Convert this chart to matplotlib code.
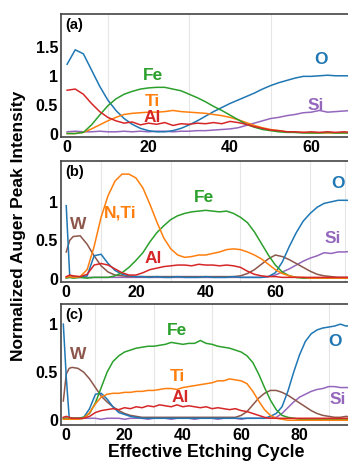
import matplotlib
matplotlib.use('Agg')
import matplotlib.pyplot as plt

plt.rcParams['font.family'] = ['Liberation Sans', 'DejaVu Sans']
plt.rcParams['font.weight'] = 'bold'

# colours (tab10 style)
c_o, c_ti, c_fe, c_al, c_si, c_w = '#1f77b4', '#ff7f0e', '#2ca02c', '#d62728', '#9467bd', '#8c564b'

#====================
# Panel (a) data
#====================
xa = list(range(0, 71, 2))
o_a = [1.20, 1.45, 1.38, 1.10, 0.82, 0.58, 0.40, 0.26, 0.16, 0.09, 0.05, 0.03,
       0.03, 0.05, 0.09, 0.15, 0.22, 0.30, 0.38, 0.45, 0.52, 0.58, 0.64, 0.70,
       0.77, 0.83, 0.88, 0.92, 0.96, 0.99, 0.99, 1.00, 1.01, 1.00, 1.00, 1.00]
fe_a = [0.00, 0.00, 0.02, 0.15, 0.32, 0.48, 0.60, 0.68, 0.73, 0.77, 0.79, 0.80,
        0.80, 0.77, 0.74, 0.68, 0.62, 0.55, 0.47, 0.40, 0.32, 0.24, 0.16, 0.11,
        0.07, 0.05, 0.03, 0.02, 0.02, 0.01, 0.01, 0.01, 0.02, 0.01, 0.01, 0.01]
ti_a = [0.00, 0.00, 0.02, 0.08, 0.15, 0.22, 0.28, 0.33, 0.35, 0.36, 0.37, 0.37,
        0.38, 0.40, 0.38, 0.37, 0.36, 0.35, 0.33, 0.31, 0.28, 0.24, 0.19, 0.14,
        0.10, 0.07, 0.05, 0.03, 0.02, 0.02, 0.01, 0.01, 0.01, 0.01, 0.01, 0.01]
al_a = [0.75, 0.77, 0.68, 0.52, 0.38, 0.28, 0.22, 0.18, 0.20, 0.15, 0.18, 0.16,
        0.19, 0.14, 0.17, 0.16, 0.18, 0.17, 0.19, 0.17, 0.21, 0.19, 0.16, 0.12,
        0.09, 0.06, 0.05, 0.03, 0.03, 0.02, 0.03, 0.02, 0.03, 0.02, 0.03, 0.02]
si_a = [0.03, 0.04, 0.03, 0.03, 0.04, 0.03, 0.03, 0.04, 0.03, 0.04, 0.03, 0.04,
        0.04, 0.03, 0.04, 0.04, 0.05, 0.05, 0.06, 0.07, 0.08, 0.10, 0.14, 0.18,
        0.22, 0.26, 0.28, 0.31, 0.33, 0.36, 0.37, 0.40, 0.37, 0.38, 0.39, 0.40]

#====================
# Panel (b) data
#====================
xb = [0, 1] + list(range(2, 83, 2))
o_b = [0.95, 0.04, 0.03, 0.02, 0.04, 0.30, 0.32, 0.20, 0.11, 0.06, 0.04, 0.03,
       0.03, 0.02, 0.03, 0.02, 0.02, 0.03, 0.02, 0.02, 0.02, 0.03, 0.02, 0.02,
       0.02, 0.03, 0.02, 0.02, 0.02, 0.02, 0.03, 0.08, 0.22, 0.42, 0.60, 0.75,
       0.85, 0.93, 0.98, 1.00, 1.02, 1.02, 1.02]
nti_b = [0.02, 0.03, 0.02, 0.03, 0.12, 0.42, 0.80, 1.08, 1.27, 1.36, 1.36, 1.31,
         1.18, 0.97, 0.74, 0.53, 0.39, 0.31, 0.28, 0.29, 0.31, 0.31, 0.33, 0.35,
         0.38, 0.39, 0.38, 0.35, 0.31, 0.26, 0.19, 0.12, 0.07, 0.04, 0.02, 0.02,
         0.01, 0.01, 0.01, 0.01, 0.01, 0.01, 0.01]
fe_b = [0.01, 0.02, 0.01, 0.02, 0.01, 0.02, 0.02, 0.02, 0.04, 0.08, 0.15, 0.24,
        0.34, 0.48, 0.60, 0.69, 0.77, 0.82, 0.85, 0.87, 0.88, 0.89, 0.88, 0.87,
        0.88, 0.85, 0.80, 0.73, 0.61, 0.46, 0.31, 0.18, 0.09, 0.04, 0.02, 0.01,
        0.01, 0.01, 0.01, 0.01, 0.01, 0.01, 0.01]
al_b = [0.03, 0.05, 0.04, 0.03, 0.06, 0.18, 0.20, 0.18, 0.13, 0.08, 0.05, 0.05,
        0.08, 0.12, 0.14, 0.16, 0.17, 0.18, 0.18, 0.17, 0.19, 0.18, 0.18, 0.17,
        0.18, 0.17, 0.15, 0.10, 0.06, 0.04, 0.03, 0.03, 0.02, 0.02, 0.02, 0.02,
        0.02, 0.02, 0.02, 0.02, 0.02, 0.02, 0.02]
w_b = [0.35, 0.50, 0.55, 0.56, 0.45, 0.30, 0.17, 0.09, 0.05, 0.04, 0.03, 0.03,
       0.03, 0.03, 0.03, 0.03, 0.03, 0.03, 0.03, 0.03, 0.03, 0.03, 0.03, 0.03,
       0.03, 0.03, 0.04, 0.07, 0.12, 0.19, 0.26, 0.31, 0.29, 0.25, 0.20, 0.15,
       0.10, 0.06, 0.04, 0.03, 0.02, 0.02, 0.02]
si_b = [0.02, 0.02, 0.02, 0.02, 0.02, 0.02, 0.02, 0.02, 0.02, 0.02, 0.02, 0.02,
        0.02, 0.02, 0.02, 0.02, 0.02, 0.02, 0.02, 0.02, 0.02, 0.02, 0.02, 0.02,
        0.02, 0.02, 0.02, 0.02, 0.02, 0.02, 0.03, 0.05, 0.09, 0.13, 0.18, 0.23,
        0.27, 0.30, 0.34, 0.33, 0.35, 0.35, 0.36]

#====================
# Panel (c) data
#====================
xc = [-1, 0, 1] + list(range(2, 99, 2))
o_c = [1.00, 0.45, 0.03, 0.02, 0.02, 0.03, 0.12, 0.27, 0.28, 0.22, 0.14, 0.08,
       0.06, 0.04, 0.03, 0.02, 0.02, 0.02, 0.02, 0.02, 0.02, 0.02, 0.02, 0.02,
       0.02, 0.02, 0.02, 0.02, 0.02, 0.02, 0.02, 0.02, 0.02, 0.02, 0.02, 0.02,
       0.02, 0.04, 0.07, 0.14, 0.30, 0.50, 0.68, 0.82, 0.90, 0.94, 0.96, 0.97,
       0.98, 1.00, 0.98, 0.99]
fe_c = [0.02, 0.02, 0.02, 0.02, 0.02, 0.03, 0.07, 0.18, 0.34, 0.50, 0.61, 0.67,
        0.71, 0.73, 0.75, 0.76, 0.77, 0.77, 0.78, 0.79, 0.81, 0.80, 0.79, 0.80,
        0.80, 0.83, 0.80, 0.79, 0.77, 0.76, 0.75, 0.73, 0.71, 0.67, 0.60, 0.48,
        0.34, 0.21, 0.11, 0.05, 0.03, 0.02, 0.01, 0.01, 0.01, 0.01, 0.01, 0.01,
        0.01, 0.01, 0.01, 0.01]
ti_c = [0.01, 0.01, 0.01, 0.01, 0.01, 0.02, 0.08, 0.17, 0.24, 0.27, 0.28, 0.28,
        0.29, 0.29, 0.30, 0.30, 0.31, 0.31, 0.32, 0.33, 0.33, 0.32, 0.34, 0.35,
        0.36, 0.37, 0.38, 0.39, 0.41, 0.41, 0.43, 0.42, 0.41, 0.38, 0.30, 0.20,
        0.11, 0.05, 0.02, 0.01, 0.00, 0.00, 0.00, 0.00, 0.00, 0.00, 0.00, 0.00,
        0.00, 0.00, 0.00, 0.00]
al_c = [0.03, 0.04, 0.03, 0.02, 0.02, 0.02, 0.04, 0.08, 0.10, 0.11, 0.12, 0.11,
        0.13, 0.12, 0.14, 0.13, 0.15, 0.14, 0.16, 0.15, 0.14, 0.16, 0.14, 0.15,
        0.14, 0.13, 0.14, 0.12, 0.13, 0.12, 0.11, 0.12, 0.10, 0.09, 0.07, 0.05,
        0.03, 0.02, 0.02, 0.02, 0.02, 0.02, 0.02, 0.02, 0.02, 0.02, 0.02, 0.02,
        0.02, 0.02, 0.02, 0.02]
w_c = [0.20, 0.48, 0.54, 0.55, 0.54, 0.50, 0.43, 0.34, 0.25, 0.19, 0.14, 0.10,
       0.07, 0.05, 0.04, 0.03, 0.03, 0.03, 0.03, 0.03, 0.03, 0.03, 0.03, 0.03,
       0.03, 0.03, 0.03, 0.03, 0.03, 0.03, 0.03, 0.03, 0.05, 0.09, 0.16, 0.23,
       0.28, 0.31, 0.31, 0.29, 0.26, 0.22, 0.18, 0.14, 0.10, 0.07, 0.05, 0.04,
       0.03, 0.03, 0.04, 0.03]
si_c = [0.02, 0.02, 0.02, 0.02, 0.01, 0.02, 0.02, 0.02, 0.01, 0.02, 0.02, 0.02,
        0.01, 0.02, 0.02, 0.02, 0.01, 0.02, 0.02, 0.02, 0.01, 0.02, 0.02, 0.02,
        0.01, 0.02, 0.02, 0.02, 0.01, 0.02, 0.02, 0.02, 0.01, 0.02, 0.02, 0.02,
        0.02, 0.02, 0.03, 0.07, 0.13, 0.19, 0.24, 0.27, 0.30, 0.32, 0.33, 0.35,
        0.35, 0.34, 0.34, 0.34]

#====================
# Figure
#====================
W, H = 348, 463
fig = plt.figure(figsize=(W / 100, H / 100), dpi=100)


def make_axes(top, bottom):
    return fig.add_axes([61 / W, 1 - bottom / H, (352 - 61) / W, (bottom - top) / H])


def style(ax, xlim, ylim, yticks, ylabels, xticks, tag):
    ax.set_xlim(*xlim)
    ax.set_ylim(*ylim)
    ax.set_yticks(yticks)
    ax.set_yticklabels(ylabels)
    ax.set_xticks(xticks)
    ax.set_xticks(range(0, int(xlim[1]) + 1, 10), minor=True)
    ax.grid(True, which='minor', axis='x', color='#e6e6e6', lw=0.8)
    ax.tick_params(which='both', length=0, labelsize=11.5, pad=2)
    for s in ax.spines.values():
        s.set_color('#444444')
        s.set_linewidth(1.2)
    ax.text(0.015, 0.97, tag, transform=ax.transAxes, fontsize=10.5,
            fontweight='bold', va='top', ha='left')


lw = 1.1

# (a)
ax = make_axes(14, 137)
for y, c in [(si_a, c_si), (o_a, c_o), (ti_a, c_ti), (fe_a, c_fe), (al_a, c_al)]:
    ax.plot(xa, y, color=c, lw=lw)
style(ax, (-1.5, 70), (-0.06, 2.07), [0, 0.5, 1, 1.5], ['0', '0.5', '1', '1.5'],
      [0, 20, 40, 60], '(a)')
for txt, x, y, c in [('Fe', 21, 1.0, c_fe), ('Ti', 21, 0.55, c_ti), ('Al', 21, 0.27, c_al),
                     ('O', 62.5, 1.29, c_o), ('Si', 61, 0.49, c_si)]:
    ax.text(x, y, txt, color=c, fontsize=12.5, fontweight='bold', ha='center', va='center')

# (b)
ax = make_axes(161, 282)
for y, c in [(si_b, c_si), (w_b, c_w), (o_b, c_o), (fe_b, c_fe), (nti_b, c_ti), (al_b, c_al)]:
    ax.plot(xb, y, color=c, lw=lw)
style(ax, (-1.5, 82), (-0.04, 1.53), [0, 0.5, 1], ['0', '0.5', '1'],
      [0, 20, 40, 60], '(b)')
for txt, x, y, c in [('W', 3.5, 0.70, c_w), ('N,Ti', 15.5, 0.85, c_ti), ('Fe', 39.5, 1.05, c_fe),
                     ('Al', 25, 0.26, c_al), ('O', 78, 1.24, c_o), ('Si', 76.5, 0.52, c_si)]:
    ax.text(x, y, txt, color=c, fontsize=12.5, fontweight='bold', ha='center', va='center')

# (c)
ax = make_axes(304, 425)
for y, c in [(si_c, c_si), (w_c, c_w), (o_c, c_o), (fe_c, c_fe), (ti_c, c_ti), (al_c, c_al)]:
    ax.plot(xc, y, color=c, lw=lw)
style(ax, (-1.8, 98), (-0.05, 1.21), [0, 0.5, 1], ['0', '0.5', '1'],
      [0, 20, 40, 60, 80], '(c)')
for txt, x, y, c in [('W', 4, 0.68, c_w), ('Fe', 38, 0.93, c_fe), ('Ti', 38, 0.46, c_ti),
                     ('Al', 39, 0.24, c_al), ('O', 92, 0.82, c_o), ('Si', 93, 0.22, c_si)]:
    ax.text(x, y, txt, color=c, fontsize=12.5, fontweight='bold', ha='center', va='center')
ax.set_xlabel('Effective Etching Cycle', fontsize=12.8, fontweight='bold', labelpad=1)

fig.text(19 / W, 1 - 226 / H, 'Normalized Auger Peak Intensity', rotation=90,
         fontsize=12.5, fontweight='bold', ha='center', va='center')

fig.savefig('out.png', dpi=100)
